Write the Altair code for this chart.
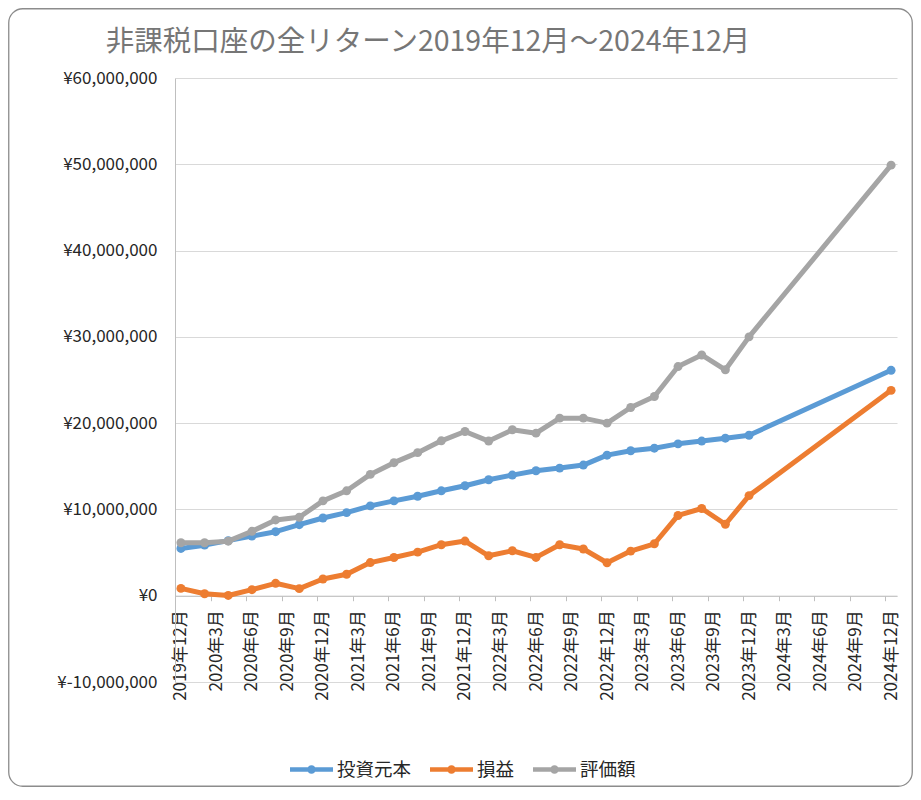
import altair as alt
import pandas as pd

# ---- data ----
months = [0, 2, 4, 6, 8, 10, 12, 14, 16, 18, 20, 22, 24, 26, 28, 30, 32, 34, 36, 38, 40, 42, 44, 46, 48, 60]
principal = [5480000, 5860000, 6380000, 6910000, 7420000, 8230000, 9010000, 9630000, 10410000, 10990000,
             11530000, 12160000, 12740000, 13440000, 13980000, 14480000, 14790000, 15140000, 16290000,
             16800000, 17100000, 17600000, 17920000, 18260000, 18600000, 26120000]
profit = [850000, 230000, 30000, 700000, 1440000, 820000, 1940000, 2490000, 3840000, 4430000,
          5050000, 5910000, 6330000, 4630000, 5210000, 4440000, 5910000, 5410000, 3820000,
          5170000, 6020000, 9300000, 10110000, 8280000, 11600000, 23800000]
valuation = [6140000, 6140000, 6320000, 7460000, 8780000, 9090000, 10990000, 12160000, 14060000, 15420000,
             16580000, 17950000, 19030000, 17920000, 19230000, 18840000, 20580000, 20580000, 20000000,
             21810000, 23090000, 26560000, 27900000, 26180000, 30000000, 49900000]
series_names = ["投資元本", "損益", "評価額"]
series_colors = ["#5B9BD5", "#ED7D31", "#A5A5A5"]
y_ticks = [-10000000, 0, 10000000, 20000000, 30000000, 40000000, 50000000, 60000000]
label_months = list(range(0, 61, 3))
tick_months = [m - 0.5 for m in range(3, 61, 3)]
title_text = "非課税口座の全リターン2019年12月～2024年12月"

rows = []
for name, vals in zip(series_names, [principal, profit, valuation]):
    for m, v in zip(months, vals):
        rows.append({"month": m, "series": name, "value": v})
df = pd.DataFrame(rows)

# ---- layout ----
FONT = "Noto Sans CJK JP"
W, H = 722, 604
Y_MIN, Y_MAX = -10000000, 60000000
PAD = {"left": 167, "top": 70, "right": 16, "bottom": 105}
zero_offset = -H * (0 - Y_MIN) / (Y_MAX - Y_MIN)
AXIS_GRAY = "#BFBFBF"
GRID_GRAY = "#D9D9D9"
TEXT = "#262626"

x_scale = alt.Scale(domain=[-0.5, 60.5], nice=False, zero=False)
y_scale = alt.Scale(domain=[Y_MIN, Y_MAX], nice=False, zero=False)
color_scale = alt.Scale(domain=series_names, range=series_colors)

y_axis = alt.Axis(
    orient="left", values=y_ticks, title=None, grid=True, gridColor=GRID_GRAY, gridWidth=1,
    domain=True, domainColor=AXIS_GRAY, domainWidth=1, ticks=False, tickSize=0,
    labelPadding=18, labelFont=FONT, labelFontSize=17, labelColor=TEXT,
    labelExpr="datum.value < 0 ? '¥-' + format(-datum.value, ',') : '¥' + format(datum.value, ',')",
)
x_label_axis = alt.Axis(
    orient="bottom", values=label_months, title=None, grid=False, ticks=False, tickSize=0,
    domain=True, domainColor=AXIS_GRAY, domainWidth=1, offset=zero_offset,
    labelAngle=270, labelPadding=14, labelFont=FONT, labelFontSize=17, labelColor=TEXT,
    labelOverlap=False, labelFlush=False,
    labelExpr="(2019 + floor((datum.value + 11) / 12)) + '年' + ((datum.value + 11) % 12 + 1) + '月'",
)
x_tick_axis = alt.Axis(
    orient="bottom", values=tick_months, title=None, grid=False, labels=False, ticks=True,
    tickSize=5, tickColor=AXIS_GRAY, tickWidth=1, domain=False, offset=zero_offset,
)

SYMBOL = ("M-1,-0.11 L1,-0.11 L1,0.11 L-1,0.11 Z "
          "M-0.2,0 A0.2,0.2 0 1,1 0.2,0 A0.2,0.2 0 1,1 -0.2,0 Z")
legend = alt.Legend(
    title=None, orient="none", legendX=115, legendY=670, direction="horizontal",
    symbolType=SYMBOL, symbolSize=1849, symbolStrokeWidth=0, symbolOpacity=1,
    labelFont=FONT, labelFontSize=18.5, labelColor=TEXT, labelOffset=4,
    columnPadding=18, padding=0,
)

layers = []
frame = alt.Chart(alt.Data(values=[{"k": 1}])).mark_rect(
    fill="transparent", stroke="#8C8C8C", strokeWidth=1.3, cornerRadius=14
).encode(
    x=alt.value(-PAD["left"] + 0.75), x2=alt.value(W + PAD["right"] - 0.75),
    y=alt.value(-PAD["top"] + 0.75), y2=alt.value(H + PAD["bottom"] - 0.75),
)
layers.append(frame)

for i, name in enumerate(series_names):
    base = alt.Chart(df).transform_filter(alt.datum.series == name)
    line = base.mark_line(strokeWidth=5, strokeJoin="round", strokeCap="round",
                          color=series_colors[i]).encode(
        x=alt.X("month:Q", scale=x_scale, axis=x_label_axis if i == 0 else None),
        y=alt.Y("value:Q", scale=y_scale, axis=y_axis),
    )
    pts = base.mark_circle(size=80, opacity=1).encode(
        x=alt.X("month:Q", scale=x_scale, axis=x_tick_axis if i == 0 else None),
        y=alt.Y("value:Q", scale=y_scale, axis=y_axis),
        fill=alt.Fill("series:N", scale=color_scale, legend=legend),
    )
    layers += [line, pts]

chart = alt.layer(*layers).resolve_axis(x="independent").properties(
    width=W, height=H, padding=PAD,
    autosize=alt.AutoSizeParams(type="none"),
    title=alt.TitleParams(text=title_text, font=FONT, fontSize=28.5, fontWeight="normal",
                          color="#767676", anchor="middle", dx=-108, offset=-48, frame="group"),
    background="white",
).configure_view(strokeWidth=0)

chart.save("out.html", embed_options={"renderer": "svg", "actions": False})
